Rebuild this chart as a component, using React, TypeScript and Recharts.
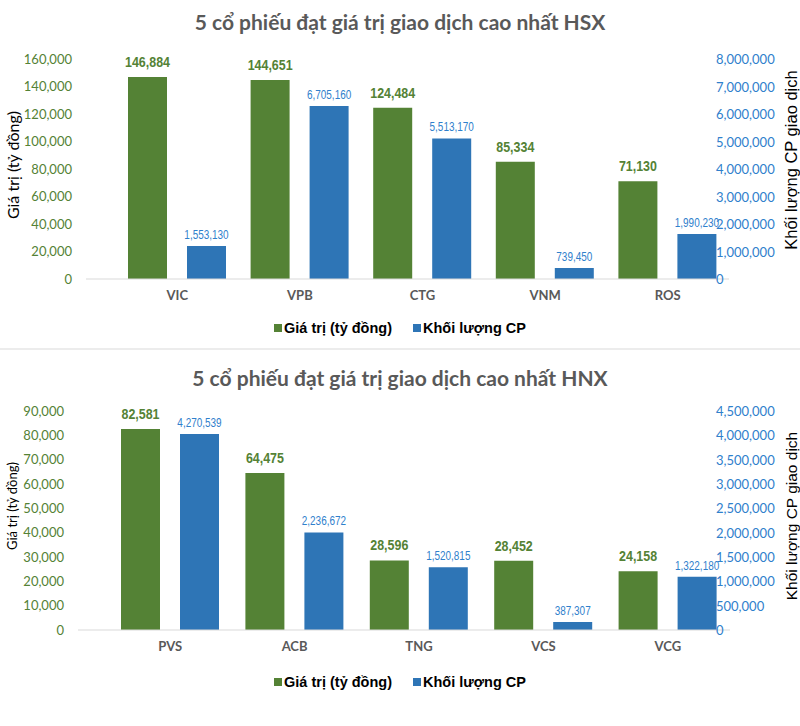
import { ComposedChart, Bar, Line, XAxis, YAxis, LabelList } from "recharts";

// HSX
const hsxCodes = ["VIC", "VPB", "CTG", "VNM", "ROS"];
const hsxValue = [146884, 144651, 124484, 85334, 71130];
const hsxVolume = [1553130, 6705160, 5513170, 739450, 1990230];
const hsxValueTicks = [0, 20000, 40000, 60000, 80000, 100000, 120000, 140000, 160000];
const hsxVolumeTicks = [0, 1000000, 2000000, 3000000, 4000000, 5000000, 6000000, 7000000, 8000000];
// the blue bars in the picture do not sit on the printed volume axis, they follow this range
const hsxVolumeBarDomain = [334000, 8437000];

// HNX
const hnxCodes = ["PVS", "ACB", "TNG", "VCS", "VCG"];
const hnxValue = [82581, 64475, 28596, 28452, 24158];
const hnxVolume = [4270539, 2236672, 1520815, 387307, 1322180];
const hnxValueTicks = [0, 10000, 20000, 30000, 40000, 50000, 60000, 70000, 80000, 90000];
const hnxVolumeTicks = [0, 500000, 1000000, 1500000, 2000000, 2500000, 3000000, 3500000, 4000000, 4500000];
const hnxVolumeBarDomain = [222000, 4746000];

const GREEN = "#548235";
const BLUE = "#2E75B6";
const TICK_BLUE = "#2F80CC";
const fmt = (v: number) => Number(v).toLocaleString("en-US");

// condensed look of the excel data labels
const barLabel = (color: string, size: number, weight: number, gap: number) => (props: any) => {
  const cx = props.x + props.width / 2;
  const cy = props.y - gap;
  return (
    <text
      transform={`translate(${cx},${cy}) scale(0.83,1)`}
      textAnchor="middle"
      fill={color}
      fontFamily="'Liberation Sans', Arial, sans-serif"
      fontWeight={weight}
      fontSize={size}
    >
      {fmt(props.value)}
    </text>
  );
};

type PanelProps = {
  title: string;
  codes: string[];
  values: number[];
  volumes: number[];
  valueTicks: number[];
  volumeTicks: number[];
  volumeBarDomain: number[];
  height: number;
  plotLeft: number;
  plotRight: number;
  plotTop: number;
  plotBottom: number;
  rightShift: number;
  titleTop: number;
  legendTop: number;
  leftTitle: { y: number; size: number };
  rightTitle: { y: number; size: number };
};

function Panel(p: PanelProps) {
  const data = p.codes.map((code, i) => ({ code, value: p.values[i], volume: p.volumes[i] }));
  const tickX = p.plotRight - p.rightShift;
  return (
    <div style={{ position: "relative", width: 800, height: p.height }}>
      <div
        style={{
          position: "absolute",
          top: p.titleTop,
          left: 0,
          width: 800,
          textAlign: "center",
          fontFamily: "Lato, sans-serif",
          fontWeight: 700,
          fontSize: 21,
          color: "#595959",
          lineHeight: "24px",
        }}
      >
        {p.title}
      </div>
      <ComposedChart
        width={800}
        height={p.height}
        data={data}
        barSize={39}
        barGap={20}
        margin={{ top: p.plotTop, bottom: p.height - p.plotBottom - 30, left: p.plotLeft - 70, right: 800 - p.plotRight - 60 }}
      >
        <XAxis
          dataKey="code"
          height={30}
          padding={{ left: 30, right: 0 }}
          tickLine={false}
          axisLine={{ stroke: "#d9d9d9" }}
          tickMargin={6}
          tick={{ fill: "#595959", fontFamily: "Lato, sans-serif", fontWeight: 700, fontSize: 13 }}
        />
        <YAxis
          yAxisId="left"
          width={70}
          domain={[p.valueTicks[0], p.valueTicks[p.valueTicks.length - 1]]}
          ticks={p.valueTicks}
          tickFormatter={fmt}
          axisLine={false}
          tickLine={false}
          tickMargin={8}
          tick={{ fill: GREEN, fontFamily: "Lato, sans-serif", fontSize: 13 }}
          label={{
            content: () => (
              <text
                x={12}
                y={p.leftTitle.y}
                transform={`rotate(-90 12 ${p.leftTitle.y})`}
                textAnchor="middle"
                dominantBaseline="central"
                fontFamily="Lato, sans-serif"
                fontSize={p.leftTitle.size}
                fill="#000"
              >
                Giá trị (tỷ đồng)
              </text>
            ),
          }}
        />
        <YAxis
          yAxisId="right"
          orientation="right"
          width={60}
          domain={[p.volumeTicks[0], p.volumeTicks[p.volumeTicks.length - 1]]}
          ticks={p.volumeTicks}
          axisLine={false}
          tickLine={false}
          tickSize={0}
          tickMargin={0}
          tick={(t: any) => (
            <text
              x={tickX}
              y={t.y}
              textAnchor="start"
              dominantBaseline="central"
              fill={TICK_BLUE}
              fontFamily="Lato, sans-serif"
              fontSize={13}
            >
              {fmt(t.payload.value)}
            </text>
          )}
          label={{
            content: () => (
              <text
                x={791}
                y={p.rightTitle.y}
                transform={`rotate(-90 791 ${p.rightTitle.y})`}
                textAnchor="middle"
                dominantBaseline="central"
                fontFamily="'Liberation Sans', Arial, sans-serif"
                fontSize={p.rightTitle.size}
                fill="#000"
              >
                Khối lượng CP giao dịch
              </text>
            ),
          }}
        />
        <YAxis
          yAxisId="volBars"
          orientation="right"
          hide
          width={0}
          type="number"
          allowDataOverflow
          domain={p.volumeBarDomain}
        />
        <Bar yAxisId="left" dataKey="value" fill={GREEN} isAnimationActive={false}>
          <LabelList dataKey="value" content={barLabel(GREEN, 15, 700, 10)} />
        </Bar>
        <Bar yAxisId="volBars" dataKey="volume" fill={BLUE} isAnimationActive={false}>
          <LabelList dataKey="volume" content={barLabel(TICK_BLUE, 12, 400, 7)} />
        </Bar>
        {/* keeps the printed volume axis alive, draws nothing */}
        <Line
          yAxisId="right"
          dataKey="volume"
          stroke="none"
          strokeOpacity={0}
          dot={false}
          activeDot={false}
          legendType="none"
          isAnimationActive={false}
        />
      </ComposedChart>
      <div
        style={{
          position: "absolute",
          top: p.legendTop,
          left: 0,
          width: 800,
          display: "flex",
          justifyContent: "center",
          gap: 21,
          fontFamily: "'Liberation Sans', Arial, sans-serif",
          fontWeight: 700,
          fontSize: 14.5,
          color: "#000",
          lineHeight: "16px",
        }}
      >
        <span style={{ display: "flex", alignItems: "center" }}>
          <span style={{ width: 8, height: 8, background: GREEN, marginRight: 2, display: "inline-block" }} />
          Giá trị (tỷ đồng)
        </span>
        <span style={{ display: "flex", alignItems: "center" }}>
          <span style={{ width: 8, height: 8, background: BLUE, marginRight: 2, display: "inline-block" }} />
          Khối lượng CP
        </span>
      </div>
    </div>
  );
}

export default function App() {
  return (
    <div style={{ position: "absolute", left: 0, top: 0, width: 800, height: 726, background: "#fff" }}>
      <Panel
        title="5 cổ phiếu đạt giá trị giao dịch cao nhất HSX"
        codes={hsxCodes}
        values={hsxValue}
        volumes={hsxVolume}
        valueTicks={hsxValueTicks}
        volumeTicks={hsxVolumeTicks}
        volumeBarDomain={hsxVolumeBarDomain}
        height={348}
        plotLeft={86}
        plotRight={729}
        plotTop={59}
        plotBottom={279}
        rightShift={13}
        titleTop={10}
        legendTop={320}
        leftTitle={{ y: 165, size: 16 }}
        rightTitle={{ y: 160, size: 16.5 }}
      />
      <div style={{ height: 2, background: "#ececec", width: 800 }} />
      <Panel
        title="5 cổ phiếu đạt giá trị giao dịch cao nhất HNX"
        codes={hnxCodes}
        values={hnxValue}
        volumes={hnxVolume}
        valueTicks={hnxValueTicks}
        volumeTicks={hnxVolumeTicks}
        volumeBarDomain={hnxVolumeBarDomain}
        height={376}
        plotLeft={78}
        plotRight={730}
        plotTop={61}
        plotBottom={280}
        rightShift={14}
        titleTop={16}
        legendTop={324}
        leftTitle={{ y: 156, size: 13 }}
        rightTitle={{ y: 166, size: 15.5 }}
      />
    </div>
  );
}
